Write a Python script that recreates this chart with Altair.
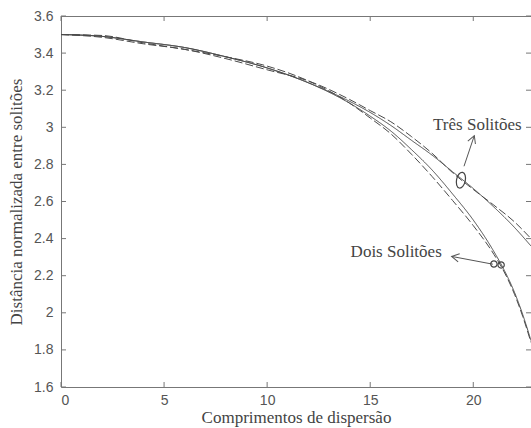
import altair as alt
import pandas as pd

# ---- data ----
z_two = [0, 2, 4, 6, 8, 10, 12, 14, 15, 16, 17, 18, 19, 20, 21, 21.5, 22, 22.4, 22.8]
two_solid = [3.50, 3.49, 3.46, 3.43, 3.38, 3.32, 3.24, 3.13, 3.06, 2.98, 2.88, 2.77, 2.64, 2.50, 2.33, 2.23, 2.11, 1.99, 1.85]
two_dash = [3.50, 3.495, 3.455, 3.42, 3.38, 3.33, 3.25, 3.13, 3.05, 2.965, 2.855, 2.735, 2.605, 2.47, 2.315, 2.22, 2.10, 1.98, 1.84]

z_three = [0, 2, 4, 6, 8, 10, 12, 14, 15, 16, 17, 18, 19, 20, 21, 22, 22.8]
three_solid = [3.50, 3.49, 3.46, 3.43, 3.38, 3.32, 3.24, 3.14, 3.08, 3.01, 2.93, 2.85, 2.76, 2.67, 2.57, 2.46, 2.36]
three_dash = [3.50, 3.485, 3.45, 3.42, 3.37, 3.31, 3.25, 3.15, 3.09, 3.03, 2.95, 2.86, 2.755, 2.665, 2.58, 2.49, 2.40]

x_ticks = [0, 5, 10, 15, 20]
y_ticks = [1.6, 1.8, 2.0, 2.2, 2.4, 2.6, 2.8, 3.0, 3.2, 3.4, 3.6]

labels = ["Dois Solitões", "Três Solitões"]
label_x = [16.26, 20.2]
label_y = [2.33, 3.01]

# arrows: tail (at circle) -> head (near label)
arrow_x = [20.95, 19.55]
arrow_y = [2.262, 2.79]
arrow_x2 = [18.95, 20.05]
arrow_y2 = [2.304, 2.955]
arrow_angle = [190.8, 291.2]

# markers at intersections
ring_x = [21.0, 21.35]
ring_y = [2.263, 2.258]
ell_x = [19.4]
ell_y = [2.715]

X_MAX = 22.8
W, H = 470, 371
FONT_SERIF = "Liberation Serif"
FONT_SANS = "Liberation Sans"
LINE = "#4a4a4a"
X_TITLE = "Comprimentos de dispersão"
Y_TITLE = "Distância normalizada entre solitões"

rows = []
for z, v in zip(z_two, two_solid):
    rows.append({"z": z, "d": v, "serie": "dois_solid"})
for z, v in zip(z_two, two_dash):
    rows.append({"z": z, "d": v, "serie": "dois_dash"})
for z, v in zip(z_three, three_solid):
    rows.append({"z": z, "d": v, "serie": "tres_solid"})
for z, v in zip(z_three, three_dash):
    rows.append({"z": z, "d": v, "serie": "tres_dash"})
df = pd.DataFrame(rows)

xs = alt.Scale(domain=[0, X_MAX], nice=False, zero=False)
ys = alt.Scale(domain=[1.6, 3.6], nice=False, zero=False)

x_axis = alt.Axis(values=x_ticks, ticks=False, tickSize=0, grid=False,
                  labelPadding=6, titlePadding=2, labelFontSize=14,
                  labelFont=FONT_SANS, labelColor="#555",
                  titleFont=FONT_SERIF, titleFontSize=17,
                  titleFontWeight="normal", titleColor="#444",
                  domainColor="#777")
y_axis = alt.Axis(values=y_ticks, format=".1~f", ticks=False, tickSize=0,
                  grid=False, labelPadding=8, titlePadding=8,
                  labelFontSize=14, labelFont=FONT_SANS, labelColor="#555",
                  titleFont=FONT_SERIF, titleFontSize=17,
                  titleFontWeight="normal", titleColor="#444",
                  domainColor="#777")


def X(field):
    return alt.X(field, type="quantitative", scale=xs, title=X_TITLE, axis=x_axis)


def Y(field):
    return alt.Y(field, type="quantitative", scale=ys, title=Y_TITLE, axis=y_axis)


lines = alt.Chart(df).mark_line(strokeWidth=1, color=LINE, interpolate="monotone").encode(
    x=X("z"),
    y=Y("d"),
    detail="serie:N",
    strokeDash=alt.StrokeDash("serie:N", legend=None,
                              scale=alt.Scale(domain=["dois_solid", "dois_dash", "tres_solid", "tres_dash"],
                                              range=[[1, 0], [8, 3], [1, 0], [8, 3]])),
)

yt = pd.DataFrame({"v": y_ticks})
xt = pd.DataFrame({"v": x_ticks})

left_ticks = alt.Chart(yt).mark_rule(color="#777").encode(
    y=Y("v"), x=alt.value(0), x2=alt.value(5))
right_ticks = alt.Chart(yt).mark_rule(color="#777").encode(
    y=Y("v"), x=alt.value(W - 5), x2=alt.value(W))
bottom_ticks = alt.Chart(xt).mark_rule(color="#777").encode(
    x=X("v"), y=alt.value(H - 5), y2=alt.value(H))
top_ticks = alt.Chart(xt).mark_rule(color="#777").encode(
    x=X("v"), y=alt.value(0), y2=alt.value(5))
top_line = alt.Chart(xt).mark_rule(color="#777").encode(
    x=alt.value(0), x2=alt.value(W), y=alt.value(0.5))

ann = pd.DataFrame({"label": labels, "x": label_x, "y": label_y})
texts = alt.Chart(ann).mark_text(font=FONT_SERIF, fontSize=17, color="#444").encode(
    x=X("x"), y=Y("y"), text="label:N")

arr = pd.DataFrame({"x": arrow_x, "y": arrow_y, "x2": arrow_x2, "y2": arrow_y2, "a": arrow_angle})
arrow_lines = alt.Chart(arr).mark_rule(color="#555", strokeWidth=1).encode(
    x=X("x"), y=Y("y"), x2="x2:Q", y2="y2:Q")
arrow_heads = alt.Chart(arr).mark_point(
    shape="M-1,-0.55L0,0L-1,0.55", filled=False, size=220, color="#555", strokeWidth=1, opacity=1
).encode(x=X("x2"), y=Y("y2"), angle=alt.Angle("a:Q", scale=None))

rings = alt.Chart(pd.DataFrame({"x": ring_x, "y": ring_y})).mark_point(
    shape="circle", filled=False, size=40, color="#444", strokeWidth=1.2, opacity=1
).encode(x=X("x"), y=Y("y"))

ellipse = alt.Chart(pd.DataFrame({"x": ell_x, "y": ell_y})).mark_point(
    shape="M0,-1A0.55,1 0 1,1 0,1A0.55,1 0 1,1 0,-1Z", filled=False, size=256,
    color="#444", strokeWidth=1.2, opacity=1, angle=12
).encode(x=X("x"), y=Y("y"))

chart = alt.layer(
    lines, left_ticks, right_ticks, bottom_ticks, top_ticks, top_line,
    arrow_lines, arrow_heads, rings, ellipse, texts
).properties(
    width=W, height=H,
    autosize=alt.AutoSizeParams(type="none"),
    padding={"left": 61, "top": 16, "right": 0, "bottom": 41},
    background="white",
).configure_view(stroke=None)

chart.save("out.html", embed_options={"renderer": "svg", "actions": False})
